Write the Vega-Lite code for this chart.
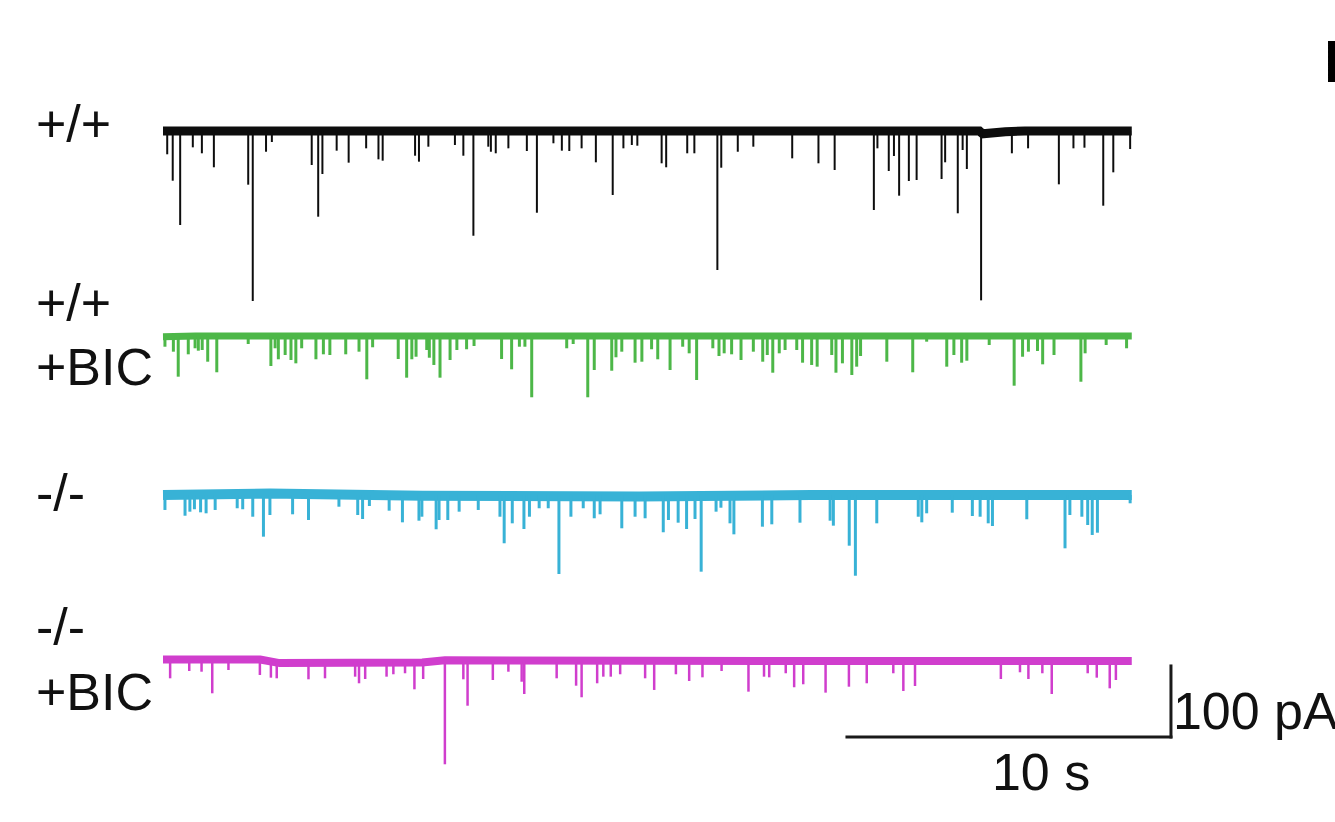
{
  "$schema": "https://vega.github.io/schema/vega-lite/v6.json",
  "background": "white",
  "padding": 0,
  "spacing": 0,
  "bounds": "flush",
  "config": {"view": {"stroke": null}, "concat": {"spacing": 0}, "text": {"font": "Liberation Sans"}},
  "resolve": {"scale": {"x": "independent", "y": "independent"}},
  "datasets": {
    "baseline": [
      {"trace": "+/+", "t": 0, "pA": 0}, {"trace": "+/+", "t": 25.2, "pA": 0}, {"trace": "+/+", "t": 25.3, "pA": -4}, {"trace": "+/+", "t": 26.0, "pA": -1}, {"trace": "+/+", "t": 26.6, "pA": 0}, {"trace": "+/+", "t": 29.9, "pA": 0},
      {"trace": "+/+ +BIC", "t": 0, "pA": -1}, {"trace": "+/+ +BIC", "t": 1, "pA": 0}, {"trace": "+/+ +BIC", "t": 29.9, "pA": 0},
      {"trace": "-/-", "t": 0, "pA": 0}, {"trace": "-/-", "t": 3.3, "pA": 2}, {"trace": "-/-", "t": 8.0, "pA": -1}, {"trace": "-/-", "t": 14.7, "pA": -2}, {"trace": "-/-", "t": 20, "pA": 0}, {"trace": "-/-", "t": 29.9, "pA": 0},
      {"trace": "-/- +BIC", "t": 0, "pA": 2}, {"trace": "-/- +BIC", "t": 3.0, "pA": 2}, {"trace": "-/- +BIC", "t": 3.6, "pA": -3}, {"trace": "-/- +BIC", "t": 8.0, "pA": -2}, {"trace": "-/- +BIC", "t": 8.7, "pA": 1}, {"trace": "-/- +BIC", "t": 20, "pA": 0}, {"trace": "-/- +BIC", "t": 29.9, "pA": 0}
    ],
    "spikes": [
      {"trace": "+/+", "t": 0.13, "pA": -32.8}, {"trace": "+/+", "t": 0.30, "pA": -70.0}, {"trace": "+/+", "t": 0.53, "pA": -132.4}, {"trace": "+/+", "t": 0.92, "pA": -23.0}, {"trace": "+/+", "t": 1.20, "pA": -31.4}, {"trace": "+/+", "t": 1.57, "pA": -51.1}, {"trace": "+/+", "t": 2.63, "pA": -75.6}, {"trace": "+/+", "t": 2.77, "pA": -239.4}, {"trace": "+/+", "t": 3.18, "pA": -29.2}, {"trace": "+/+", "t": 3.36, "pA": -15.5}, {"trace": "+/+", "t": 4.59, "pA": -47.9}, {"trace": "+/+", "t": 4.79, "pA": -120.7}, {"trace": "+/+", "t": 4.92, "pA": -60.6}, {"trace": "+/+", "t": 5.36, "pA": -27.7}, {"trace": "+/+", "t": 5.73, "pA": -44.6}, {"trace": "+/+", "t": 6.27, "pA": -24.4}, {"trace": "+/+", "t": 6.65, "pA": -39.9}, {"trace": "+/+", "t": 6.78, "pA": -41.8}, {"trace": "+/+", "t": 7.78, "pA": -34.8}, {"trace": "+/+", "t": 7.90, "pA": -43.2}, {"trace": "+/+", "t": 8.19, "pA": -22.1}, {"trace": "+/+", "t": 9.01, "pA": -19.7}, {"trace": "+/+", "t": 9.27, "pA": -34.8}, {"trace": "+/+", "t": 9.58, "pA": -147.5}, {"trace": "+/+", "t": 10.04, "pA": -22.1}, {"trace": "+/+", "t": 10.12, "pA": -29.2}, {"trace": "+/+", "t": 10.27, "pA": -31.4}, {"trace": "+/+", "t": 10.66, "pA": -24.4}, {"trace": "+/+", "t": 11.23, "pA": -28.2}, {"trace": "+/+", "t": 11.54, "pA": -115.1}, {"trace": "+/+", "t": 12.05, "pA": -17.3}, {"trace": "+/+", "t": 12.31, "pA": -27.7}, {"trace": "+/+", "t": 12.54, "pA": -28.2}, {"trace": "+/+", "t": 12.92, "pA": -24.4}, {"trace": "+/+", "t": 13.36, "pA": -44.1}, {"trace": "+/+", "t": 13.88, "pA": -90.1}, {"trace": "+/+", "t": 14.21, "pA": -24.4}, {"trace": "+/+", "t": 14.47, "pA": -19.7}, {"trace": "+/+", "t": 14.64, "pA": -20.7}, {"trace": "+/+", "t": 15.39, "pA": -45.5}, {"trace": "+/+", "t": 15.53, "pA": -51.1}, {"trace": "+/+", "t": 16.18, "pA": -31.4}, {"trace": "+/+", "t": 16.40, "pA": -31.4}, {"trace": "+/+", "t": 17.11, "pA": -195.8}, {"trace": "+/+", "t": 17.23, "pA": -51.7}, {"trace": "+/+", "t": 17.74, "pA": -29.2}, {"trace": "+/+", "t": 18.22, "pA": -22.1}, {"trace": "+/+", "t": 19.42, "pA": -38.5}, {"trace": "+/+", "t": 20.23, "pA": -45.5}, {"trace": "+/+", "t": 20.73, "pA": -54.9}, {"trace": "+/+", "t": 21.94, "pA": -111.3}, {"trace": "+/+", "t": 22.05, "pA": -24.4}, {"trace": "+/+", "t": 22.40, "pA": -56.3}, {"trace": "+/+", "t": 22.56, "pA": -35.2}, {"trace": "+/+", "t": 22.72, "pA": -91.1}, {"trace": "+/+", "t": 23.02, "pA": -70.4}, {"trace": "+/+", "t": 23.26, "pA": -69.0}, {"trace": "+/+", "t": 24.03, "pA": -67.6}, {"trace": "+/+", "t": 24.14, "pA": -44.1}, {"trace": "+/+", "t": 24.53, "pA": -115.9}, {"trace": "+/+", "t": 24.68, "pA": -26.8}, {"trace": "+/+", "t": 24.81, "pA": -53.5}, {"trace": "+/+", "t": 25.25, "pA": -238.5}, {"trace": "+/+", "t": 26.20, "pA": -31.4}, {"trace": "+/+", "t": 26.70, "pA": -24.4}, {"trace": "+/+", "t": 27.65, "pA": -75.1}, {"trace": "+/+", "t": 28.10, "pA": -24.4}, {"trace": "+/+", "t": 28.44, "pA": -23.5}, {"trace": "+/+", "t": 29.02, "pA": -105.2}, {"trace": "+/+", "t": 29.33, "pA": -58.2}, {"trace": "+/+", "t": 29.85, "pA": -25.4},
      {"trace": "+/+ +BIC", "t": 0.06, "pA": -15.1}, {"trace": "+/+ +BIC", "t": 0.32, "pA": -22.1}, {"trace": "+/+ +BIC", "t": 0.47, "pA": -57.3}, {"trace": "+/+ +BIC", "t": 0.78, "pA": -25.8}, {"trace": "+/+ +BIC", "t": 0.99, "pA": -17.3}, {"trace": "+/+ +BIC", "t": 1.09, "pA": -20.7}, {"trace": "+/+ +BIC", "t": 1.21, "pA": -19.7}, {"trace": "+/+ +BIC", "t": 1.38, "pA": -36.2}, {"trace": "+/+ +BIC", "t": 1.66, "pA": -51.1}, {"trace": "+/+ +BIC", "t": 2.63, "pA": -11.3}, {"trace": "+/+ +BIC", "t": 3.33, "pA": -42.3}, {"trace": "+/+ +BIC", "t": 3.46, "pA": -17.3}, {"trace": "+/+ +BIC", "t": 3.56, "pA": -32.8}, {"trace": "+/+ +BIC", "t": 3.77, "pA": -26.8}, {"trace": "+/+ +BIC", "t": 3.95, "pA": -33.8}, {"trace": "+/+ +BIC", "t": 4.10, "pA": -38.5}, {"trace": "+/+ +BIC", "t": 4.28, "pA": -17.3}, {"trace": "+/+ +BIC", "t": 4.72, "pA": -32.8}, {"trace": "+/+ +BIC", "t": 4.95, "pA": -25.8}, {"trace": "+/+ +BIC", "t": 5.15, "pA": -26.8}, {"trace": "+/+ +BIC", "t": 5.64, "pA": -25.8}, {"trace": "+/+ +BIC", "t": 6.05, "pA": -22.1}, {"trace": "+/+ +BIC", "t": 6.29, "pA": -61.0}, {"trace": "+/+ +BIC", "t": 6.47, "pA": -15.9}, {"trace": "+/+ +BIC", "t": 7.26, "pA": -32.4}, {"trace": "+/+ +BIC", "t": 7.52, "pA": -58.7}, {"trace": "+/+ +BIC", "t": 7.68, "pA": -32.8}, {"trace": "+/+ +BIC", "t": 7.81, "pA": -29.2}, {"trace": "+/+ +BIC", "t": 8.14, "pA": -19.7}, {"trace": "+/+ +BIC", "t": 8.22, "pA": -30.6}, {"trace": "+/+ +BIC", "t": 8.36, "pA": -40.8}, {"trace": "+/+ +BIC", "t": 8.55, "pA": -58.7}, {"trace": "+/+ +BIC", "t": 8.86, "pA": -33.8}, {"trace": "+/+ +BIC", "t": 9.07, "pA": -19.7}, {"trace": "+/+ +BIC", "t": 9.37, "pA": -18.7}, {"trace": "+/+ +BIC", "t": 9.60, "pA": -14.1}, {"trace": "+/+ +BIC", "t": 10.45, "pA": -32.4}, {"trace": "+/+ +BIC", "t": 10.76, "pA": -46.9}, {"trace": "+/+ +BIC", "t": 11.00, "pA": -15.1}, {"trace": "+/+ +BIC", "t": 11.17, "pA": -15.1}, {"trace": "+/+ +BIC", "t": 11.38, "pA": -86.3}, {"trace": "+/+ +BIC", "t": 12.46, "pA": -17.3}, {"trace": "+/+ +BIC", "t": 12.66, "pA": -11.3}, {"trace": "+/+ +BIC", "t": 13.11, "pA": -86.3}, {"trace": "+/+ +BIC", "t": 13.31, "pA": -47.9}, {"trace": "+/+ +BIC", "t": 13.85, "pA": -48.9}, {"trace": "+/+ +BIC", "t": 13.98, "pA": -30.0}, {"trace": "+/+ +BIC", "t": 14.16, "pA": -22.1}, {"trace": "+/+ +BIC", "t": 14.57, "pA": -37.6}, {"trace": "+/+ +BIC", "t": 14.78, "pA": -36.2}, {"trace": "+/+ +BIC", "t": 15.08, "pA": -18.7}, {"trace": "+/+ +BIC", "t": 15.27, "pA": -32.8}, {"trace": "+/+ +BIC", "t": 15.65, "pA": -47.9}, {"trace": "+/+ +BIC", "t": 16.04, "pA": -15.1}, {"trace": "+/+ +BIC", "t": 16.24, "pA": -24.4}, {"trace": "+/+ +BIC", "t": 16.47, "pA": -62.0}, {"trace": "+/+ +BIC", "t": 16.97, "pA": -17.3}, {"trace": "+/+ +BIC", "t": 17.16, "pA": -28.2}, {"trace": "+/+ +BIC", "t": 17.32, "pA": -24.4}, {"trace": "+/+ +BIC", "t": 17.55, "pA": -25.8}, {"trace": "+/+ +BIC", "t": 17.84, "pA": -33.8}, {"trace": "+/+ +BIC", "t": 18.22, "pA": -22.1}, {"trace": "+/+ +BIC", "t": 18.51, "pA": -36.2}, {"trace": "+/+ +BIC", "t": 18.65, "pA": -26.8}, {"trace": "+/+ +BIC", "t": 18.82, "pA": -51.7}, {"trace": "+/+ +BIC", "t": 19.02, "pA": -24.4}, {"trace": "+/+ +BIC", "t": 19.20, "pA": -19.7}, {"trace": "+/+ +BIC", "t": 19.56, "pA": -19.7}, {"trace": "+/+ +BIC", "t": 19.74, "pA": -37.6}, {"trace": "+/+ +BIC", "t": 20.02, "pA": -40.8}, {"trace": "+/+ +BIC", "t": 20.19, "pA": -43.2}, {"trace": "+/+ +BIC", "t": 20.64, "pA": -26.8}, {"trace": "+/+ +BIC", "t": 20.77, "pA": -51.7}, {"trace": "+/+ +BIC", "t": 20.97, "pA": -38.5}, {"trace": "+/+ +BIC", "t": 21.26, "pA": -54.9}, {"trace": "+/+ +BIC", "t": 21.41, "pA": -43.2}, {"trace": "+/+ +BIC", "t": 21.53, "pA": -28.2}, {"trace": "+/+ +BIC", "t": 22.34, "pA": -36.2}, {"trace": "+/+ +BIC", "t": 23.14, "pA": -51.1}, {"trace": "+/+ +BIC", "t": 23.57, "pA": -8.0}, {"trace": "+/+ +BIC", "t": 24.19, "pA": -43.2}, {"trace": "+/+ +BIC", "t": 24.41, "pA": -26.8}, {"trace": "+/+ +BIC", "t": 24.65, "pA": -37.6}, {"trace": "+/+ +BIC", "t": 24.81, "pA": -34.8}, {"trace": "+/+ +BIC", "t": 25.50, "pA": -12.7}, {"trace": "+/+ +BIC", "t": 26.27, "pA": -70.0}, {"trace": "+/+ +BIC", "t": 26.53, "pA": -29.2}, {"trace": "+/+ +BIC", "t": 26.71, "pA": -22.1}, {"trace": "+/+ +BIC", "t": 26.99, "pA": -21.1}, {"trace": "+/+ +BIC", "t": 27.15, "pA": -39.9}, {"trace": "+/+ +BIC", "t": 27.50, "pA": -26.8}, {"trace": "+/+ +BIC", "t": 28.33, "pA": -64.4}, {"trace": "+/+ +BIC", "t": 28.46, "pA": -24.4}, {"trace": "+/+ +BIC", "t": 29.11, "pA": -12.7}, {"trace": "+/+ +BIC", "t": 29.74, "pA": -17.3},
      {"trace": "-/-", "t": 0.06, "pA": -21.1}, {"trace": "-/-", "t": 0.68, "pA": -29.2}, {"trace": "-/-", "t": 0.83, "pA": -23.5}, {"trace": "-/-", "t": 0.97, "pA": -20.1}, {"trace": "-/-", "t": 1.16, "pA": -24.4}, {"trace": "-/-", "t": 1.33, "pA": -25.8}, {"trace": "-/-", "t": 1.61, "pA": -21.1}, {"trace": "-/-", "t": 2.29, "pA": -18.7}, {"trace": "-/-", "t": 2.46, "pA": -20.1}, {"trace": "-/-", "t": 2.77, "pA": -30.6}, {"trace": "-/-", "t": 3.10, "pA": -58.7}, {"trace": "-/-", "t": 3.30, "pA": -28.2}, {"trace": "-/-", "t": 4.00, "pA": -27.2}, {"trace": "-/-", "t": 4.49, "pA": -35.2}, {"trace": "-/-", "t": 5.43, "pA": -16.5}, {"trace": "-/-", "t": 6.01, "pA": -28.2}, {"trace": "-/-", "t": 6.16, "pA": -33.8}, {"trace": "-/-", "t": 6.37, "pA": -15.5}, {"trace": "-/-", "t": 6.98, "pA": -22.1}, {"trace": "-/-", "t": 7.39, "pA": -38.5}, {"trace": "-/-", "t": 7.90, "pA": -36.2}, {"trace": "-/-", "t": 7.99, "pA": -30.6}, {"trace": "-/-", "t": 8.43, "pA": -48.3}, {"trace": "-/-", "t": 8.52, "pA": -35.2}, {"trace": "-/-", "t": 8.79, "pA": -35.2}, {"trace": "-/-", "t": 9.14, "pA": -23.5}, {"trace": "-/-", "t": 9.73, "pA": -21.1}, {"trace": "-/-", "t": 10.40, "pA": -30.6}, {"trace": "-/-", "t": 10.53, "pA": -68.0}, {"trace": "-/-", "t": 10.78, "pA": -39.9}, {"trace": "-/-", "t": 11.14, "pA": -47.9}, {"trace": "-/-", "t": 11.31, "pA": -30.6}, {"trace": "-/-", "t": 11.61, "pA": -18.7}, {"trace": "-/-", "t": 11.89, "pA": -18.7}, {"trace": "-/-", "t": 12.22, "pA": -111.3}, {"trace": "-/-", "t": 12.59, "pA": -30.6}, {"trace": "-/-", "t": 12.97, "pA": -18.7}, {"trace": "-/-", "t": 13.31, "pA": -32.8}, {"trace": "-/-", "t": 13.49, "pA": -27.2}, {"trace": "-/-", "t": 14.16, "pA": -46.9}, {"trace": "-/-", "t": 14.57, "pA": -30.6}, {"trace": "-/-", "t": 14.88, "pA": -32.8}, {"trace": "-/-", "t": 15.44, "pA": -52.5}, {"trace": "-/-", "t": 15.60, "pA": -35.2}, {"trace": "-/-", "t": 15.90, "pA": -39.0}, {"trace": "-/-", "t": 16.16, "pA": -47.9}, {"trace": "-/-", "t": 16.42, "pA": -33.8}, {"trace": "-/-", "t": 16.61, "pA": -108.0}, {"trace": "-/-", "t": 17.07, "pA": -23.5}, {"trace": "-/-", "t": 17.22, "pA": -17.9}, {"trace": "-/-", "t": 17.50, "pA": -39.9}, {"trace": "-/-", "t": 17.62, "pA": -55.4}, {"trace": "-/-", "t": 18.50, "pA": -44.6}, {"trace": "-/-", "t": 18.79, "pA": -41.3}, {"trace": "-/-", "t": 19.66, "pA": -39.0}, {"trace": "-/-", "t": 20.59, "pA": -36.2}, {"trace": "-/-", "t": 20.69, "pA": -43.2}, {"trace": "-/-", "t": 21.18, "pA": -71.4}, {"trace": "-/-", "t": 21.37, "pA": -113.7}, {"trace": "-/-", "t": 22.03, "pA": -39.9}, {"trace": "-/-", "t": 23.31, "pA": -30.6}, {"trace": "-/-", "t": 23.42, "pA": -38.5}, {"trace": "-/-", "t": 23.57, "pA": -25.8}, {"trace": "-/-", "t": 24.36, "pA": -24.9}, {"trace": "-/-", "t": 24.98, "pA": -29.6}, {"trace": "-/-", "t": 25.22, "pA": -30.6}, {"trace": "-/-", "t": 25.47, "pA": -39.9}, {"trace": "-/-", "t": 25.60, "pA": -43.7}, {"trace": "-/-", "t": 26.66, "pA": -34.2}, {"trace": "-/-", "t": 27.84, "pA": -75.1}, {"trace": "-/-", "t": 27.99, "pA": -28.2}, {"trace": "-/-", "t": 28.36, "pA": -30.6}, {"trace": "-/-", "t": 28.54, "pA": -42.3}, {"trace": "-/-", "t": 28.68, "pA": -56.3}, {"trace": "-/-", "t": 28.84, "pA": -53.1}, {"trace": "-/-", "t": 29.85, "pA": -11.7},
      {"trace": "-/- +BIC", "t": 0.22, "pA": -24.4}, {"trace": "-/- +BIC", "t": 0.81, "pA": -14.1}, {"trace": "-/- +BIC", "t": 1.19, "pA": -15.1}, {"trace": "-/- +BIC", "t": 1.52, "pA": -45.5}, {"trace": "-/- +BIC", "t": 2.02, "pA": -12.7}, {"trace": "-/- +BIC", "t": 2.99, "pA": -19.7}, {"trace": "-/- +BIC", "t": 3.33, "pA": -23.5}, {"trace": "-/- +BIC", "t": 3.51, "pA": -24.4}, {"trace": "-/- +BIC", "t": 4.49, "pA": -25.8}, {"trace": "-/- +BIC", "t": 5.00, "pA": -24.4}, {"trace": "-/- +BIC", "t": 5.93, "pA": -22.1}, {"trace": "-/- +BIC", "t": 6.05, "pA": -31.4}, {"trace": "-/- +BIC", "t": 6.24, "pA": -25.4}, {"trace": "-/- +BIC", "t": 6.90, "pA": -22.1}, {"trace": "-/- +BIC", "t": 7.11, "pA": -18.7}, {"trace": "-/- +BIC", "t": 7.47, "pA": -17.3}, {"trace": "-/- +BIC", "t": 7.76, "pA": -39.9}, {"trace": "-/- +BIC", "t": 8.03, "pA": -25.4}, {"trace": "-/- +BIC", "t": 8.70, "pA": -145.5}, {"trace": "-/- +BIC", "t": 9.27, "pA": -25.8}, {"trace": "-/- +BIC", "t": 9.40, "pA": -63.0}, {"trace": "-/- +BIC", "t": 10.18, "pA": -26.8}, {"trace": "-/- +BIC", "t": 10.66, "pA": -15.1}, {"trace": "-/- +BIC", "t": 11.07, "pA": -29.2}, {"trace": "-/- +BIC", "t": 11.15, "pA": -46.5}, {"trace": "-/- +BIC", "t": 12.15, "pA": -24.4}, {"trace": "-/- +BIC", "t": 12.75, "pA": -34.8}, {"trace": "-/- +BIC", "t": 12.92, "pA": -51.1}, {"trace": "-/- +BIC", "t": 13.40, "pA": -31.4}, {"trace": "-/- +BIC", "t": 13.59, "pA": -22.1}, {"trace": "-/- +BIC", "t": 13.82, "pA": -22.1}, {"trace": "-/- +BIC", "t": 14.11, "pA": -18.7}, {"trace": "-/- +BIC", "t": 14.88, "pA": -24.4}, {"trace": "-/- +BIC", "t": 15.16, "pA": -40.8}, {"trace": "-/- +BIC", "t": 15.83, "pA": -18.7}, {"trace": "-/- +BIC", "t": 16.24, "pA": -28.2}, {"trace": "-/- +BIC", "t": 16.65, "pA": -23.0}, {"trace": "-/- +BIC", "t": 17.24, "pA": -14.1}, {"trace": "-/- +BIC", "t": 18.07, "pA": -43.2}, {"trace": "-/- +BIC", "t": 18.55, "pA": -22.1}, {"trace": "-/- +BIC", "t": 18.71, "pA": -23.0}, {"trace": "-/- +BIC", "t": 19.22, "pA": -17.3}, {"trace": "-/- +BIC", "t": 19.48, "pA": -37.0}, {"trace": "-/- +BIC", "t": 19.76, "pA": -32.8}, {"trace": "-/- +BIC", "t": 20.45, "pA": -44.6}, {"trace": "-/- +BIC", "t": 21.17, "pA": -36.2}, {"trace": "-/- +BIC", "t": 21.72, "pA": -31.4}, {"trace": "-/- +BIC", "t": 22.54, "pA": -17.3}, {"trace": "-/- +BIC", "t": 22.85, "pA": -42.3}, {"trace": "-/- +BIC", "t": 23.21, "pA": -35.2}, {"trace": "-/- +BIC", "t": 25.86, "pA": -25.4}, {"trace": "-/- +BIC", "t": 26.45, "pA": -15.9}, {"trace": "-/- +BIC", "t": 26.71, "pA": -25.4}, {"trace": "-/- +BIC", "t": 27.14, "pA": -17.3}, {"trace": "-/- +BIC", "t": 27.43, "pA": -46.5}, {"trace": "-/- +BIC", "t": 28.54, "pA": -17.3}, {"trace": "-/- +BIC", "t": 28.82, "pA": -23.5}, {"trace": "-/- +BIC", "t": 29.22, "pA": -38.5}, {"trace": "-/- +BIC", "t": 29.41, "pA": -26.8}
    ],
    "scalebar": [
      {"t": 21.11, "t2": 31.11, "pA": -107, "pA2": -107},
      {"t": 31.11, "t2": 31.11, "pA": -107, "pA2": -7}
    ]
  },
  "vconcat": [
    {
      "width": 1335, "height": 310,
      "layer": [
        {"data": {"name": "baseline"}, "transform": [{"filter": {"field": "trace", "equal": "+/+"}}],
         "mark": {"type": "line", "strokeWidth": 9, "strokeCap": "butt"},
         "encoding": {"x": {"field": "t", "type": "quantitative", "scale": {"domain": [-5.0309, 36.1728], "nice": false, "zero": false}, "axis": null},
                      "y": {"field": "pA", "type": "quantitative", "scale": {"domain": [-252.1, 184.5], "nice": false, "zero": false}, "axis": null},
                      "color": {"field": "trace", "type": "nominal", "scale": {"domain": ["+/+", "+/+ +BIC", "-/-", "-/- +BIC"], "range": ["#0d0d0d", "#4db748", "#38b2d6", "#d03ecd"]}, "legend": null}}},
        {"data": {"name": "spikes"}, "transform": [{"filter": {"field": "trace", "equal": "+/+"}}],
         "mark": {"type": "rule", "strokeWidth": 2},
         "encoding": {"x": {"field": "t", "type": "quantitative"}, "y": {"field": "pA", "type": "quantitative"}, "y2": {"datum": 0},
                      "color": {"field": "trace", "type": "nominal", "legend": null}}},
        {"data": {"values": [{}]}, "mark": {"type": "text", "text": "+/+", "fontSize": 52, "align": "left", "baseline": "alphabetic", "color": "#111"},
         "encoding": {"x": {"datum": -3.92}, "y": {"datum": -15.5}}},
        {"data": {"values": [{}]}, "mark": {"type": "text", "text": "B", "fontSize": 60, "fontWeight": "bold", "align": "left", "baseline": "alphabetic", "color": "#000"},
         "encoding": {"x": {"datum": 35.83}, "y": {"datum": 69.4}}}
      ]
    },
    {
      "width": 1335, "height": 110,
      "layer": [
        {"data": {"name": "baseline"}, "transform": [{"filter": {"field": "trace", "equal": "+/+ +BIC"}}],
         "mark": {"type": "line", "strokeWidth": 7, "strokeCap": "butt"},
         "encoding": {"x": {"field": "t", "type": "quantitative", "scale": {"domain": [-5.0309, 36.1728], "nice": false, "zero": false}, "axis": null},
                      "y": {"field": "pA", "type": "quantitative", "scale": {"domain": [-118.3, 36.6], "nice": false, "zero": false}, "axis": null},
                      "color": {"field": "trace", "type": "nominal", "legend": null}}},
        {"data": {"name": "spikes"}, "transform": [{"filter": {"field": "trace", "equal": "+/+ +BIC"}}],
         "mark": {"type": "rule", "strokeWidth": 3},
         "encoding": {"x": {"field": "t", "type": "quantitative"}, "y": {"field": "pA", "type": "quantitative"}, "y2": {"datum": 0},
                      "color": {"field": "trace", "type": "nominal", "legend": null}}},
        {"data": {"values": [{}]}, "mark": {"type": "text", "text": "+/+", "fontSize": 52, "align": "left", "baseline": "alphabetic", "color": "#111"},
         "encoding": {"x": {"datum": -3.92}, "y": {"datum": 21.1}}},
        {"data": {"values": [{}]}, "mark": {"type": "text", "text": "+BIC", "fontSize": 52, "align": "left", "baseline": "alphabetic", "color": "#111"},
         "encoding": {"x": {"datum": -3.92}, "y": {"datum": -69.0}}}
      ]
    },
    {
      "width": 1335, "height": 170,
      "layer": [
        {"data": {"name": "baseline"}, "transform": [{"filter": {"field": "trace", "equal": "-/-"}}],
         "mark": {"type": "line", "strokeWidth": 10, "strokeCap": "butt"},
         "encoding": {"x": {"field": "t", "type": "quantitative", "scale": {"domain": [-5.0309, 36.1728], "nice": false, "zero": false}, "axis": null},
                      "y": {"field": "pA", "type": "quantitative", "scale": {"domain": [-133.8, 105.6], "nice": false, "zero": false}, "axis": null},
                      "color": {"field": "trace", "type": "nominal", "legend": null}}},
        {"data": {"name": "spikes"}, "transform": [{"filter": {"field": "trace", "equal": "-/-"}}],
         "mark": {"type": "rule", "strokeWidth": 3},
         "encoding": {"x": {"field": "t", "type": "quantitative"}, "y": {"field": "pA", "type": "quantitative"}, "y2": {"datum": 0},
                      "color": {"field": "trace", "type": "nominal", "legend": null}}},
        {"data": {"values": [{}]}, "mark": {"type": "text", "text": "-/-", "fontSize": 52, "align": "left", "baseline": "alphabetic", "color": "#111"},
         "encoding": {"x": {"datum": -3.92}, "y": {"datum": -22.5}}}
      ]
    },
    {
      "width": 1335, "height": 232,
      "layer": [
        {"data": {"name": "baseline"}, "transform": [{"filter": {"field": "trace", "equal": "-/- +BIC"}}],
         "mark": {"type": "line", "strokeWidth": 8, "strokeCap": "butt"},
         "encoding": {"x": {"field": "t", "type": "quantitative", "scale": {"domain": [-5.0309, 36.1728], "nice": false, "zero": false}, "axis": null},
                      "y": {"field": "pA", "type": "quantitative", "scale": {"domain": [-226.8, 100.0], "nice": false, "zero": false}, "axis": null},
                      "color": {"field": "trace", "type": "nominal", "legend": null}}},
        {"data": {"name": "spikes"}, "transform": [{"filter": {"field": "trace", "equal": "-/- +BIC"}}],
         "mark": {"type": "rule", "strokeWidth": 2.5},
         "encoding": {"x": {"field": "t", "type": "quantitative"}, "y": {"field": "pA", "type": "quantitative"}, "y2": {"datum": 0},
                      "color": {"field": "trace", "type": "nominal", "legend": null}}},
        {"data": {"name": "scalebar"}, "mark": {"type": "rule", "strokeWidth": 3, "color": "#1a1a1a", "strokeCap": "square"},
         "encoding": {"x": {"field": "t", "type": "quantitative"}, "x2": {"field": "t2"}, "y": {"field": "pA", "type": "quantitative"}, "y2": {"field": "pA2"}}},
        {"data": {"values": [{}]}, "mark": {"type": "text", "text": "-/-", "fontSize": 52, "align": "left", "baseline": "alphabetic", "color": "#111"},
         "encoding": {"x": {"datum": -3.92}, "y": {"datum": 22.5}}},
        {"data": {"values": [{}]}, "mark": {"type": "text", "text": "+BIC", "fontSize": 52, "align": "left", "baseline": "alphabetic", "color": "#111"},
         "encoding": {"x": {"datum": -3.92}, "y": {"datum": -69.0}}},
        {"data": {"values": [{}]}, "mark": {"type": "text", "text": "10 s", "fontSize": 52, "align": "center", "baseline": "alphabetic", "color": "#111"},
         "encoding": {"x": {"datum": 27.10}, "y": {"datum": -181.7}}},
        {"data": {"values": [{}]}, "mark": {"type": "text", "text": "100 pA", "fontSize": 52, "align": "left", "baseline": "alphabetic", "color": "#111"},
         "encoding": {"x": {"datum": 31.17}, "y": {"datum": -95.8}}}
      ]
    }
  ]
}
